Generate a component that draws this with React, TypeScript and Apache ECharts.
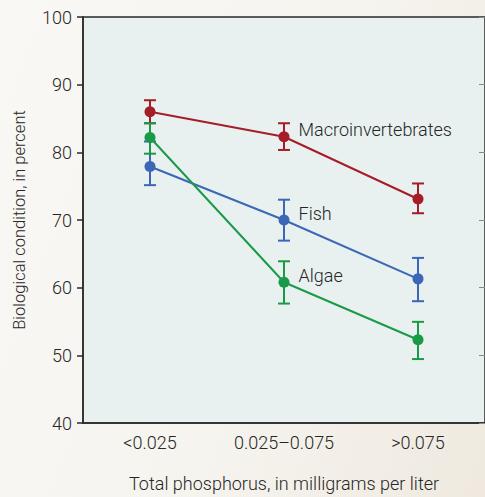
import React, { useEffect, useRef } from "react";
import * as echarts from "echarts";

const categories = ["<0.025", "0.025\u20130.075", ">0.075"];
const seriesNames = ["Macroinvertebrates", "Fish", "Algae"];
const seriesColors = ["#a51d27", "#3b67b6", "#1a9a47"];

const macroValues = [86.0, 82.3, 73.1];
const macroLow = [84.3, 80.35, 71.0];
const macroHigh = [87.7, 84.3, 75.4];

const fishValues = [77.9, 70.0, 61.3];
const fishLow = [75.15, 66.95, 58.0];
const fishHigh = [81.6, 73.0, 64.4];

const algaeValues = [82.2, 60.8, 52.3];
const algaeLow = [79.8, 57.65, 49.45];
const algaeHigh = [84.3, 63.9, 54.95];

const yMin = 40;
const yMax = 100;
const yInterval = 10;

const xAxisTitle = "Total phosphorus, in milligrams per liter";
const yAxisTitle = "Biological condition, in percent";

const FONT = 'Roboto, "DejaVu Sans Condensed", sans-serif';
const TEXT = "#262626";

export default function App() {
  const ref = useRef<HTMLDivElement>(null);
  useEffect(() => {
    if (!ref.current) return;
    const chart = echarts.init(ref.current, undefined, { renderer: "svg" });
    const values = [macroValues, fishValues, algaeValues];
    const lows = [macroLow, fishLow, algaeLow];
    const highs = [macroHigh, fishHigh, algaeHigh];

    const errorSeries = seriesNames.map((name, si) => ({
      type: "custom",
      name: name + " error",
      z: 2,
      data: categories.map((_, i) => [i, lows[si][i], highs[si][i]]),
      renderItem: (params: any, api: any) => {
        const x = api.value(0);
        const lo = api.coord([x, api.value(1)]);
        const hi = api.coord([x, api.value(2)]);
        const hw = 6;
        const style = { stroke: seriesColors[si], lineWidth: 2, fill: "none" };
        return {
          type: "group",
          children: [
            { type: "line", shape: { x1: lo[0], y1: lo[1], x2: hi[0], y2: hi[1] }, style },
            { type: "line", shape: { x1: lo[0] - hw, y1: lo[1], x2: lo[0] + hw, y2: lo[1] }, style },
            { type: "line", shape: { x1: hi[0] - hw, y1: hi[1], x2: hi[0] + hw, y2: hi[1] }, style },
          ],
        };
      },
    }));

    const lineSeries = seriesNames.map((name, si) => ({
      type: "line",
      name,
      z: 3,
      symbol: "circle",
      symbolSize: 11,
      lineStyle: { color: seriesColors[si], width: 2 },
      itemStyle: { color: seriesColors[si] },
      data: values[si].map((v, i) =>
        i === 1
          ? {
              value: v,
              label: {
                show: true,
                position: "right",
                offset: [4, -7],
                formatter: name,
                color: TEXT,
                fontSize: 18,
                fontWeight: 300,
                fontFamily: FONT,
              },
            }
          : v
      ),
    }));

    chart.setOption({
      animation: false,
      backgroundColor: "transparent",
      textStyle: { fontFamily: FONT },
      grid: {
        left: 83,
        top: 17,
        width: 406.5,
        height: 408,
        show: true,
        backgroundColor: "#e8f1f0",
        borderColor: "#2a2a2a",
        borderWidth: 1.5,
      },
      xAxis: {
        type: "category",
        data: categories,
        boundaryGap: true,
        axisLine: { lineStyle: { color: "#2a2a2a", width: 1.5 } },
        axisTick: { show: false },
        axisLabel: { color: TEXT, fontSize: 18, fontWeight: 300, margin: 10, fontFamily: FONT },
        name: xAxisTitle,
        nameLocation: "middle",
        nameGap: 51,
        nameTextStyle: { color: TEXT, fontSize: 18, fontWeight: 300, fontFamily: FONT },
      },
      yAxis: [
        {
          type: "value",
          min: yMin,
          max: yMax,
          interval: yInterval,
          splitLine: { show: false },
          axisLine: { show: true, lineStyle: { color: "#2a2a2a", width: 1.5 } },
          axisTick: { show: true, length: 6, lineStyle: { color: "#2a2a2a", width: 1.5 } },
          axisLabel: { color: TEXT, fontSize: 18, fontWeight: 300, margin: 11, fontFamily: FONT },
          name: yAxisTitle,
          nameLocation: "middle",
          nameGap: 55,
          nameRotate: 90,
          nameTextStyle: { color: TEXT, fontSize: 16.5, fontWeight: 300, fontFamily: FONT },
        },
        {
          type: "value",
          position: "right",
          min: yMin,
          max: yMax,
          interval: yInterval,
          splitLine: { show: false },
          axisLine: { show: false },
          axisTick: { show: true, inside: true, length: 6, lineStyle: { color: "#888", width: 1 } },
          axisLabel: { show: false },
        },
      ],
      series: [...errorSeries, ...lineSeries],
    });
    return () => chart.dispose();
  }, []);
  return (
    <div
      ref={ref}
      style={{
        position: "fixed",
        left: 0,
        top: 0,
        width: 485,
        height: 497,
        background: "linear-gradient(110deg, #f9f8f5 0%, #f6f4ef 55%, #efe9df 100%)",
      }}
    />
  );
}
